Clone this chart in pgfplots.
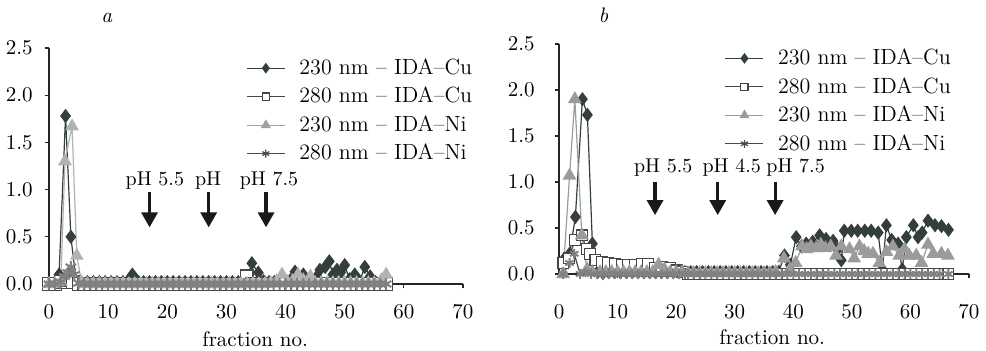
\documentclass[border=0pt]{standalone}
\usepackage{fontspec}
\usepackage{pgfplots}
\pgfplotsset{compat=1.18}
\usetikzlibrary{arrows.meta}
\definecolor{cudark}{RGB}{52,62,59}
\definecolor{sqdark}{RGB}{70,70,70}
\definecolor{niA}{RGB}{178,178,178}
\definecolor{niB}{RGB}{155,155,155}
\definecolor{nilegA}{RGB}{160,160,160}
\definecolor{stargray}{RGB}{128,128,128}
\definecolor{stardark}{RGB}{75,75,75}
\tikzset{arr/.style={line width=1.6pt, black!90, -{Triangle[width=8pt,length=7.5pt]}},
  phlab/.style={font=\fontsize{10}{12}\selectfont}}
\pgfplotsset{
  myaxis/.style={
    scale only axis, xmin=0, xmax=70, ymin=0, ymax=2.5,
    axis x line=bottom, axis y line=left,
    axis line style={-, draw=black!85, line width=0.6pt},
    xtick={0,10,20,30,40,50,60,70},
    ytick={0,0.5,1,1.5,2,2.5},
    tick align=outside, major tick length=2pt,
    tick style={draw=black!85, line width=0.6pt},
    clip=false,
    /pgf/number format/assume math mode=true,
    yticklabel style={/pgf/number format/fixed,/pgf/number format/fixed zerofill,/pgf/number format/precision=1},
    legend cell align=left,
    legend style={draw=none, fill=none, anchor=north west, row sep=0.8pt, font=\fontsize{11}{13}\selectfont,
      /tikz/every odd column/.append style={column sep=5pt}},
    legend image code/.code={\draw[mark repeat=2,mark phase=2,#1] plot coordinates {(0pt,0pt) (9.5pt,0pt) (19pt,0pt)};},
  },
  cuS/.style={color=cudark, line width=0.6pt, mark=diamond*, mark size=3.1pt, mark options={fill=cudark, draw=cudark, solid}},
  sqS/.style={color=sqdark, line width=0.6pt, mark=square*, mark size=3.2pt, mark options={fill=white, draw=sqdark, solid}},
  sqSB/.style={color=sqdark, line width=0.6pt, mark=square*, mark size=2.7pt, mark options={fill=white, draw=sqdark, solid}},
  niSA/.style={color=niA, line width=0.6pt, mark=triangle*, mark size=3.4pt, mark options={fill=niA, draw=niA, solid}},
  niSB/.style={color=niB, line width=0.6pt, mark=triangle*, mark size=3.4pt, mark options={fill=niB, draw=niB, solid}},
  stS/.style={color=stardark, line width=0.6pt, mark=asterisk, mark size=3pt, mark options={draw=stargray, line width=1pt, solid}},
}
\begin{document}
\fontsize{10.5}{12.6}\selectfont
\begin{tikzpicture}
\useasboundingbox (0,0) rectangle (493pt,175pt);
\node[anchor=base] at (53.5pt,164pt) {\textit{a}};
\node[anchor=base] at (301.7pt,164pt) {\textit{b}};
% ---------------- panel a ----------------
\begin{axis}[myaxis, at={(24.5pt,33pt)}, anchor=south west, width=207pt, height=118pt,
  yticklabel style={anchor=east, xshift=-2.5pt},
  xticklabel style={anchor=base, yshift=-15pt},
  xlabel={fraction no.},
  xlabel style={at={(axis description cs:0.498,0)}, anchor=base, yshift=-31pt},
  legend style={at={(axis description cs:0.461,0.99)}},
]
\addlegendimage{color=cudark, line width=0.6pt, mark=diamond*, mark size=2.2pt, mark options={fill=cudark}}
\addlegendentry{230 nm -- IDA--Cu}
\addlegendimage{color=sqdark, line width=0.6pt, mark=square*, mark size=1.8pt, mark options={fill=white}}
\addlegendentry{280 nm -- IDA--Cu}
\addlegendimage{color=nilegA, line width=0.6pt, mark=triangle*, mark size=2.3pt, mark options={fill=nilegA}}
\addlegendentry{230 nm -- IDA--Ni}
\addlegendimage{color=stardark, line width=0.6pt, mark=asterisk, mark size=2pt}
\addlegendentry{280 nm -- IDA--Ni}
\addplot[cuS, forget plot] coordinates {(0,0) (1,0.02) (1.7,0.1) (2.8,1.78) (3.7,0.5) (4.6,0.03) (5.5,0.02) (6.5,0.02) (7.5,0.02) (8.5,0.02) (9.5,0.02) (10.5,0.02) (11.5,0.02) (12.5,0.02) (13.3,0.03) (14.1,0.1) (15,0.03) (16,0.02) (17,0.02) (18,0.02) (19,0.02) (20,0.02) (21,0.02) (22,0.02) (23,0.02) (24,0.02) (25,0.02) (26,0.02) (27,0.02) (28,0.02) (29,0.02) (30,0.02) (31,0.02) (32,0.02) (33.4,0.04) (34.3,0.22) (35.4,0.12) (36.3,0.03) (37.2,0.02) (38.1,0.02) (39,0.02) (39.9,0.02) (40.8,0.04) (41.6,0.13) (42.4,0.06) (43,0.1) (44,0.03) (45.3,0.08) (45.8,0.15) (46.7,0.18) (47.4,0.24) (48,0.1) (48.7,0.15) (49.3,0.12) (50,0.2) (50.8,0.05) (51.7,0.1) (52.5,0.03) (53.4,0.18) (54.3,0.08) (55.2,0.02) (56.1,0.02) (57,0.01)};
\addplot[sqS, forget plot] coordinates {(0,0) (1,0) (2,0.02) (3,0.04) (4,0.02) (5,0) (6,0) (7,0) (8,0) (9,0) (10,0) (11,0) (12,0) (13,0) (14,0) (15,0) (16,0) (17,0) (18,0) (19,0) (20,0) (21,0) (22,0) (23,0) (24,0) (25,0) (26,0) (27,0) (28,0) (29,0) (30,0) (31,0) (32,0) (33.4,0.08) (34.3,0) (35,0) (36,0) (37,0) (38,0) (39,0) (40,0) (41,0) (42,0) (43,0) (44,0) (45,0) (46,0) (47,0) (48,0) (49,0) (50,0) (51,0) (52,0) (53,0) (54,0) (55,0) (56,0) (57,0)};
\addplot[niSA, forget plot] coordinates {(0,0) (1,0) (2,0.02) (2.7,1.3) (3.9,1.67) (4.7,0.3) (5.5,0.02) (6.5,0) (7.5,0) (8.5,0) (9.5,0) (10.5,0) (11.5,0) (12.5,0) (13.5,0) (14.5,0) (15.5,0) (16.5,0) (17.5,0) (18.5,0) (19.5,0) (20.5,0) (21.5,0) (22.5,0) (23.5,0) (24.5,0) (25.5,0) (26.5,0) (27.5,0) (28.5,0) (29.5,0) (30.5,0) (31.5,0) (32.5,0) (33.5,0) (34.5,0) (35.5,0) (36.5,0) (37.5,0.01) (38.5,0.03) (39.4,0.1) (40.3,0.02) (41.2,0.03) (42.1,0.1) (43,0.04) (44.2,0.08) (45,0.01) (46,0.01) (47,0.01) (48,0.01) (49,0.01) (50,0.01) (51,0.01) (52,0.01) (53,0.01) (54,0.01) (55,0.01) (56.2,0.04) (57,0.1)};
\addplot[stS, forget plot] coordinates {(0,0) (1,0) (2,0.02) (2.6,0.08) (3.2,0.12) (3.7,0.18) (4.3,0.1) (5,0.01) (6,0) (7,0) (8,0) (9,0) (10,0) (11,0) (12,0) (13,0) (14,0) (15,0) (16,0) (17,0) (18,0) (19,0) (20,0) (21,0) (22,0) (23,0) (24,0) (25,0) (26,0) (27,0) (28,0) (29,0) (30,0) (31,0) (32,0) (33,0) (34,0) (35,0) (36,0) (37,0) (38,0) (39,0) (40,0) (41,0) (42,0) (43,0) (44,0) (45,0) (46,0) (47,0) (48,0) (49,0) (50,0) (51,0) (52,0) (53,0) (54,0) (55,0) (56,0) (57,0)};
\node[phlab] at (axis cs:17.9,1.10) {pH 5.5};
\node[phlab] at (axis cs:26.9,1.10) {pH};
\node[phlab] at (axis cs:37.2,1.10) {pH 7.5};
\draw[arr] (axis cs:17,0.97) -- (axis cs:17,0.60);
\draw[arr] (axis cs:27,0.97) -- (axis cs:27,0.60);
\draw[arr] (axis cs:36.7,0.97) -- (axis cs:36.7,0.60);
\end{axis}
% ---------------- panel b ----------------
\begin{axis}[myaxis, at={(279.5pt,38pt)}, anchor=south west, width=205pt, height=115pt,
  yticklabel style={anchor=east, xshift=-6.5pt},
  xticklabel style={anchor=base, yshift=-20pt},
  xlabel={fraction no.},
  xlabel style={at={(axis description cs:0.52,0)}, anchor=base, yshift=-35pt},
  legend style={at={(axis description cs:0.389,1.015)}},
]
\addlegendimage{color=cudark, line width=0.6pt, mark=diamond*, mark size=2.2pt, mark options={fill=cudark}}
\addlegendentry{230 nm -- IDA--Cu}
\addlegendimage{color=sqdark, line width=0.6pt, mark=square*, mark size=1.8pt, mark options={fill=white}}
\addlegendentry{280 nm -- IDA--Cu}
\addlegendimage{color=niB, line width=0.6pt, mark=triangle*, mark size=2.3pt, mark options={fill=niB}}
\addlegendentry{230 nm -- IDA--Ni}
\addlegendimage{color=stardark, line width=0.6pt, mark=asterisk, mark size=2pt}
\addlegendentry{280 nm -- IDA--Ni}
\addplot[cuS, forget plot] coordinates {(0.7,0.15) (1.8,0.22) (2.8,0.62) (4.0,1.9) (4.85,1.73) (5.7,0.33) (6.6,0.02) (7.5,0.01) (8.5,0.02) (9.5,0.02) (10.5,0.02) (11.5,0.02) (12.5,0.02) (13.5,0.02) (14.5,0.02) (15.5,0.02) (16.5,0.02) (17.5,0.02) (18.5,0.02) (19.5,0.02) (20.5,0.02) (21.5,0.02) (22.5,0.02) (23.5,0.02) (24.5,0.02) (25.5,0.02) (26.5,0.02) (27.5,0.02) (28.5,0.02) (29.5,0.02) (30.5,0.02) (31.5,0.02) (32.5,0.02) (33.5,0.02) (34.5,0.02) (35.5,0.02) (36.5,0.02) (37.5,0.02) (38.5,0.2) (39.5,0.1) (40.5,0.4) (41.4,0.3) (42.2,0.33) (43.3,0.35) (44.5,0.42) (45.6,0.38) (46.8,0.36) (47.6,0.27) (48.2,0.15) (48.7,0.47) (49.9,0.47) (51.0,0.47) (52.2,0.47) (53.3,0.47) (54.5,0.45) (55.2,0.05) (55.9,0.53) (56.8,0.37) (57.9,0.33) (58.6,0.05) (59.3,0.4) (60.5,0.53) (61.3,0.4) (62.0,0.45) (63.0,0.58) (64.2,0.53) (65.3,0.52) (66.5,0.48)};
\addplot[sqSB, forget plot] coordinates {(0.74,0.12) (1.7,0.17) (2.7,0.37) (3.9,0.42) (4.7,0.27) (5.3,0.22) (6.2,0.15) (7.3,0.13) (8.4,0.12) (9.6,0.11) (10.7,0.1) (11.8,0.1) (13.0,0.1) (14.2,0.11) (15.2,0.11) (16.4,0.07) (17.6,0.08) (19.0,0.07) (20.1,0.04) (21.2,0.02) (22,0) (23,0) (24,0) (25,0) (26,0) (27,0) (28,0) (29,0) (30,0) (31,0) (32,0) (33,0) (34,0) (35,0) (36,0) (37,0) (38,0) (39,0) (40,0) (41,0) (42,0) (43,0) (44,0) (45,0) (46,0) (47,0) (48,0) (49,0) (50,0) (51,0) (52,0) (53,0) (54,0) (55,0) (56,0) (57,0) (58,0) (59,0) (60,0) (61,0) (62,0) (63,0) (64,0) (65,0) (66.5,0)};
\addplot[niSB, forget plot] coordinates {(0.7,0.0) (1.8,1.07) (2.7,1.9) (3.9,0.42) (4.8,0.05) (5.7,0.02) (7,0.02) (8,0.02) (9,0.02) (10,0.02) (11,0.02) (12,0.02) (13,0.02) (14,0.02) (15,0.02) (16,0.02) (17.0,0.1) (18.0,0.05) (19,0.02) (20,0.02) (21,0.02) (22,0.01) (23,0.01) (24,0.01) (25,0.01) (26,0.01) (27,0.01) (28,0.01) (29,0.01) (30,0.01) (31,0.01) (32,0.01) (33,0.01) (34,0.01) (35,0.01) (36,0.01) (37,0.02) (38.4,0.17) (39.4,0.05) (40.4,0.12) (41.5,0.3) (42.3,0.27) (43.0,0.3) (43.9,0.28) (44.7,0.32) (45.5,0.28) (46.4,0.3) (47.3,0.2) (48.2,0.3) (49.6,0.27) (50.4,0.17) (51.3,0.3) (52.1,0.25) (52.8,0.22) (53.6,0.22) (54.7,0.12) (55.9,0.24) (57.0,0.3) (58.1,0.2) (59.0,0.27) (59.8,0.2) (61.0,0.2) (61.9,0.12) (63.0,0.32) (63.9,0.22) (65.3,0.22) (66.4,0.2)};
\addplot[stS, mark size=2.4pt, forget plot] coordinates {(0.7,0) (1.8,0.12) (2.6,0.22) (3.6,0) (4.5,0.02) (5.5,0) (6.5,0) (7.5,0) (8.5,0) (9.5,0) (10.5,0) (11.5,0) (12.5,0) (13.5,0) (14.5,0) (15.5,0) (16.5,0) (17.5,0) (18.5,0) (19.5,0) (20.5,0) (21.5,0) (22,0) (23,0) (24,0) (25,0) (26,0) (27,0) (28,0) (29,0) (30,0) (31,0) (32,0) (33,0) (34,0) (35,0) (36,0) (37,0) (38,0) (39,0) (40,0) (41,0) (42,0) (43,0) (44,0) (45,0) (46,0) (47,0) (48,0) (49,0) (50,0) (51,0) (52,0) (53,0) (54,0) (55,0) (56,0) (57,0) (58,0) (59,0) (60,0) (61,0) (62,0) (63,0) (64,0) (65,0) (66.5,0)};
\node[phlab] at (axis cs:17.8,1.16) {pH 5.5};
\node[phlab] at (axis cs:29.5,1.16) {pH 4.5};
\node[phlab] at (axis cs:40.4,1.16) {pH 7.5};
\draw[arr] (axis cs:16.4,1.0) -- (axis cs:16.4,0.64);
\draw[arr] (axis cs:27.1,1.0) -- (axis cs:27.1,0.64);
\draw[arr] (axis cs:36.9,1.0) -- (axis cs:36.9,0.64);
\end{axis}
\end{tikzpicture}
\end{document}
